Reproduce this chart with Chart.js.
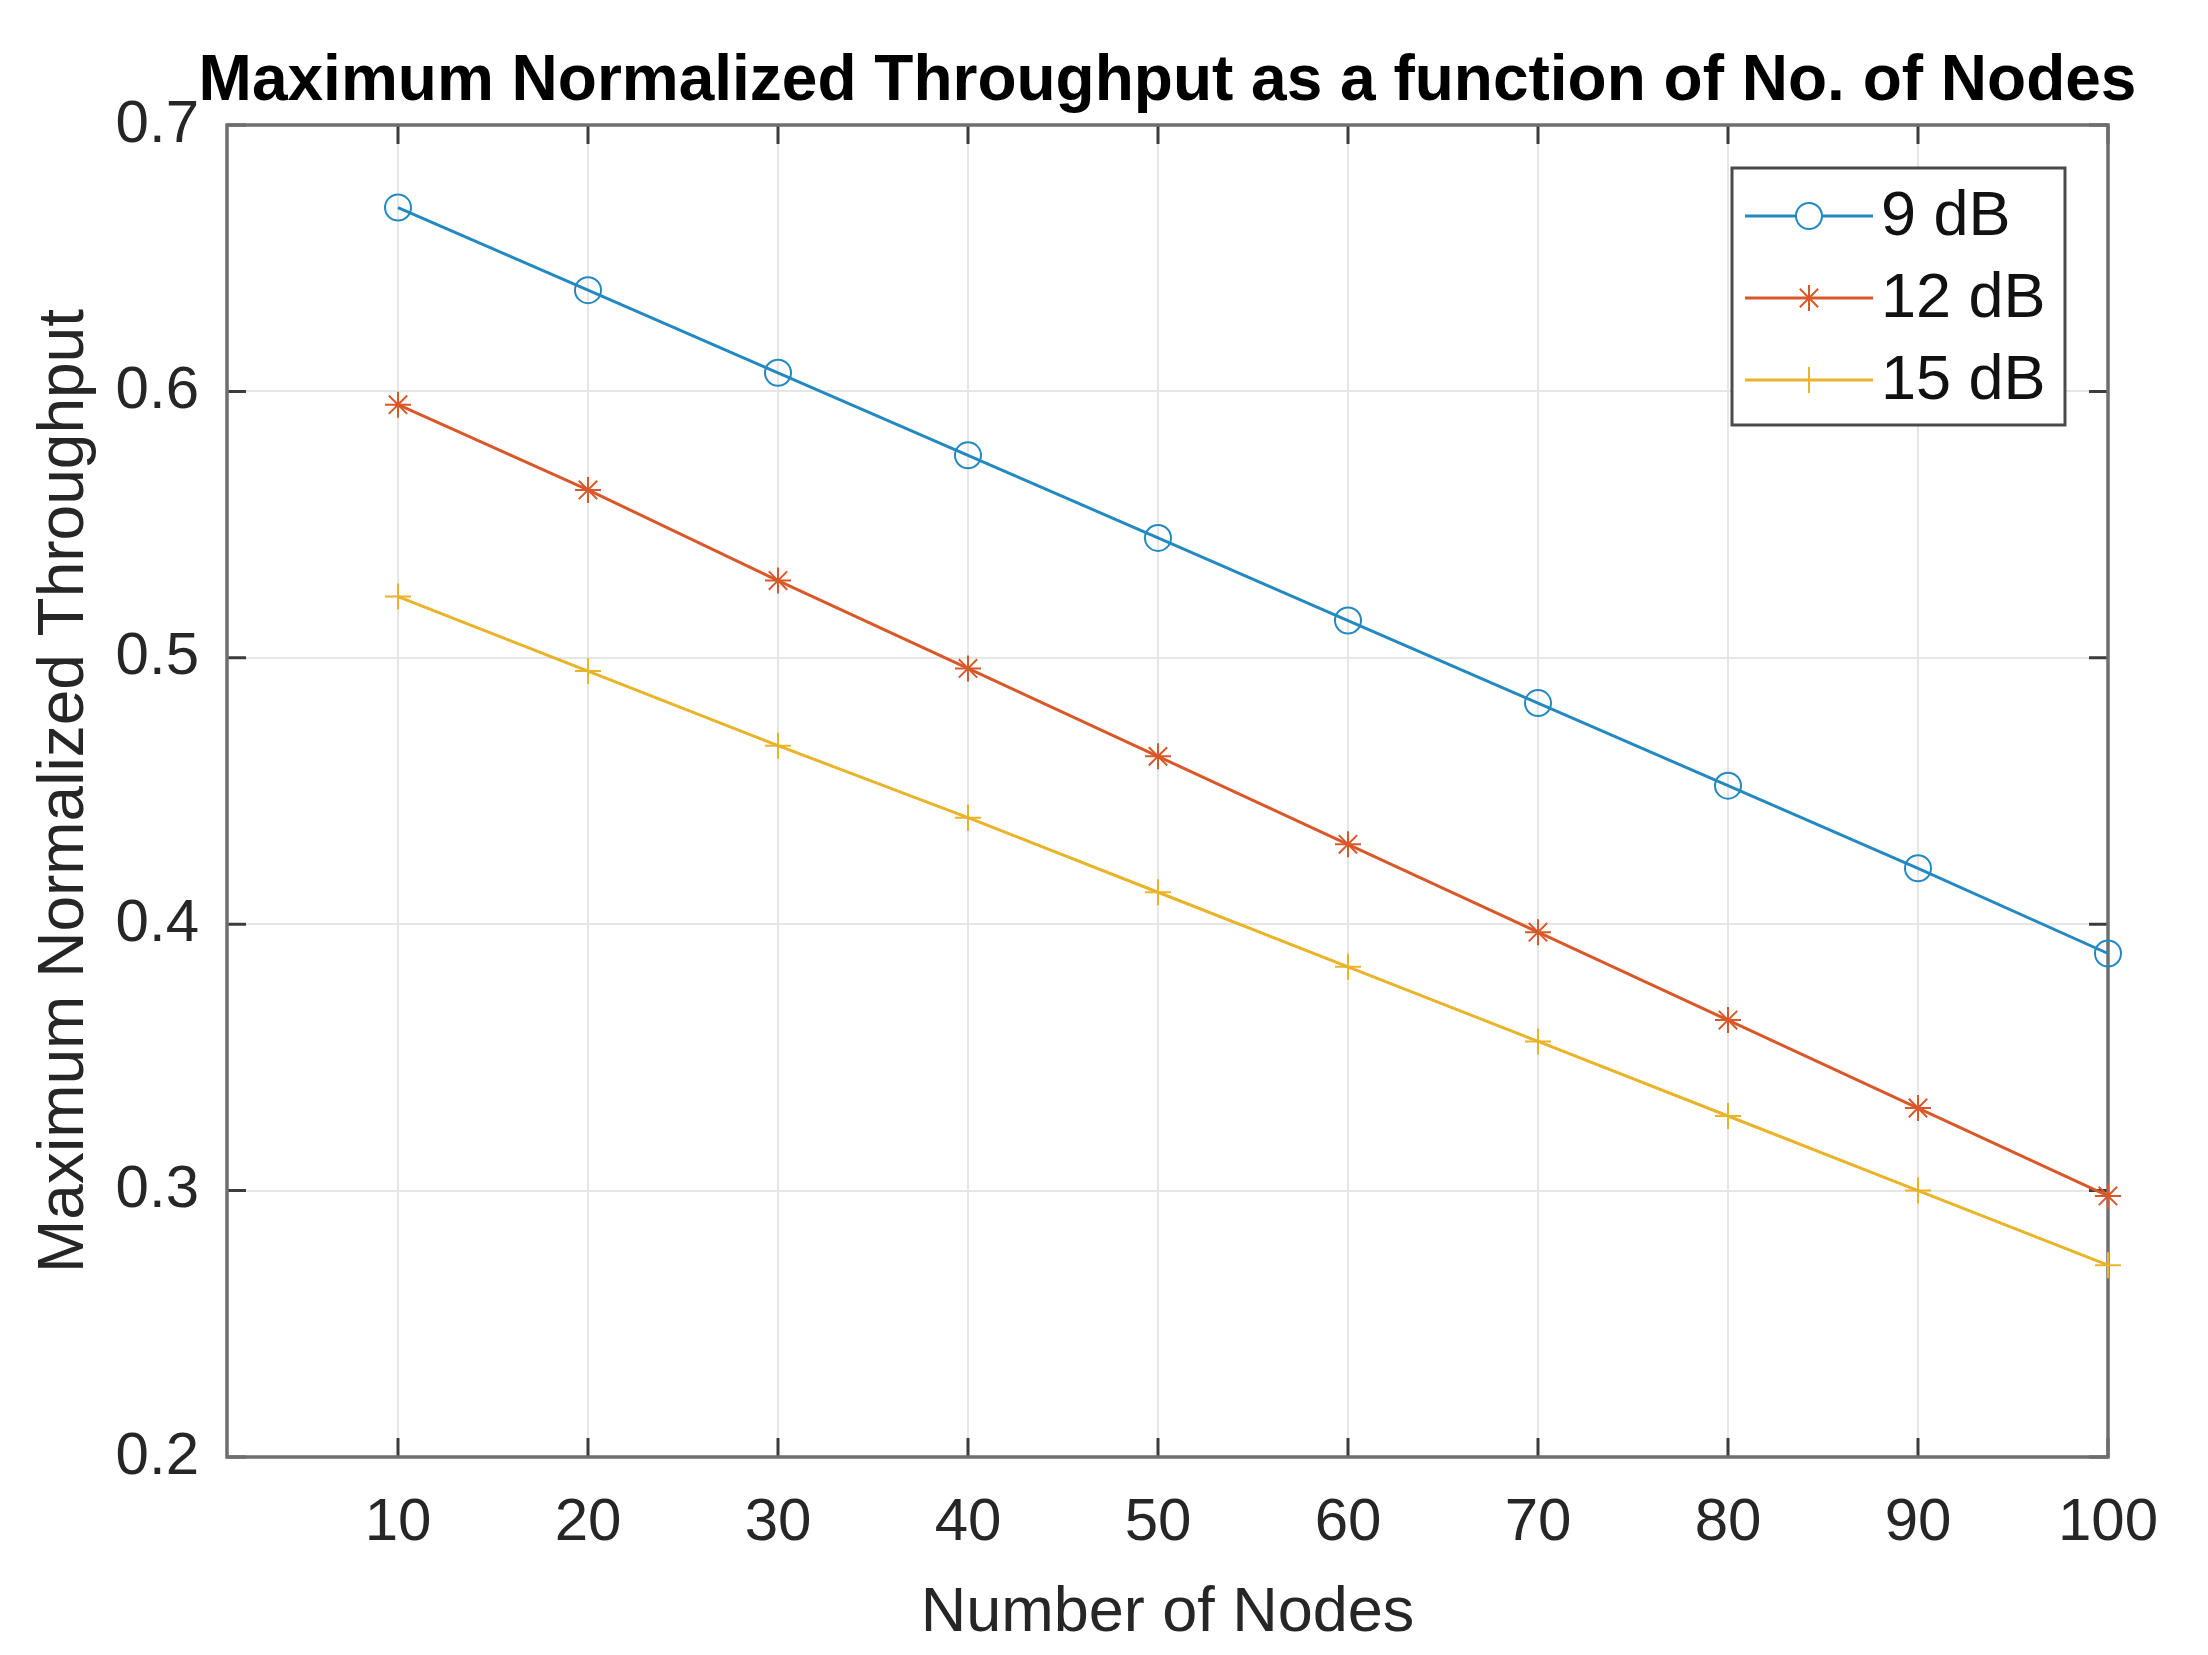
<html><head><title>Maximum Normalized Throughput</title>
<script src="https://cdn.jsdelivr.net/npm/chart.js"></script>
<style>
    html, body {
        margin: 0;
        padding: 0;
        background: #fff;
    }
    #chart-container {
        width: 2208px;
        height: 1655px;
    }
</style>
</head>
<body>
    <div id="chart-container">
        <canvas id="throughputChart" width="2208" height="1655"></canvas>
    </div>

    <script>
    const nodes = [10, 20, 30, 40, 50, 60, 70, 80, 90, 100];
    const seriesLabels = ['9 dB', '12 dB', '15 dB'];
    const throughput9dB = [0.669, 0.638, 0.607, 0.576, 0.545, 0.514, 0.483, 0.452, 0.421, 0.389];
    const throughput12dB = [0.595, 0.563, 0.529, 0.496, 0.463, 0.430, 0.397, 0.364, 0.331, 0.298];
    const throughput15dB = [0.523, 0.495, 0.467, 0.440, 0.412, 0.384, 0.356, 0.328, 0.300, 0.272];
    const xTicks = [10, 20, 30, 40, 50, 60, 70, 80, 90, 100];
    const yTicks = [0.2, 0.3, 0.4, 0.5, 0.6, 0.7];

    const colors = ['#2389c0', '#d9582a', '#e9b32a'];
    const markers = ['circle', 'star', 'cross'];
    const fontFamily = '"Liberation Sans", Arial, sans-serif';

    function toPoints(values) {
        return nodes.map((n, i) => ({ x: n, y: values[i] }));
    }

    // MATLAB style: box, inward ticks on all sides, title and legend inside the axes
    const matlabAxes = {
        id: 'matlabAxes',
        beforeDatasetsDraw(chart) {
            const ctx = chart.ctx;
            const a = chart.chartArea;
            const xs = chart.scales.x;
            const ys = chart.scales.y;
            const tickLen = 19;

            ctx.save();
            ctx.strokeStyle = '#3c3c3c';
            ctx.lineWidth = 3;
            ctx.beginPath();
            xTicks.forEach(t => {
                const px = xs.getPixelForValue(t);
                ctx.moveTo(px, a.bottom); ctx.lineTo(px, a.bottom - tickLen);
                ctx.moveTo(px, a.top); ctx.lineTo(px, a.top + tickLen);
            });
            yTicks.forEach(t => {
                const py = ys.getPixelForValue(t);
                ctx.moveTo(a.left, py); ctx.lineTo(a.left + tickLen, py);
                ctx.moveTo(a.right, py); ctx.lineTo(a.right - tickLen, py);
            });
            ctx.stroke();

            ctx.strokeStyle = '#6e6e6e';
            ctx.lineWidth = 3.5;
            ctx.strokeRect(a.left, a.top, a.right - a.left, a.bottom - a.top);
            ctx.restore();
        },
        afterDatasetsDraw(chart) {
            const ctx = chart.ctx;
            const a = chart.chartArea;

            ctx.save();
            // title
            ctx.fillStyle = '#000';
            ctx.font = 'bold 64px ' + fontFamily;
            ctx.textAlign = 'center';
            ctx.textBaseline = 'middle';
            ctx.fillText('Maximum Normalized Throughput as a function of No. of Nodes', (a.left + a.right) / 2, 82);

            // legend
            const boxW = 333, boxH = 257;
            const bx = a.right - 43 - boxW;
            const by = a.top + 43;
            ctx.fillStyle = '#fff';
            ctx.fillRect(bx, by, boxW, boxH);
            ctx.strokeStyle = '#4a4a4a';
            ctx.lineWidth = 3;
            ctx.strokeRect(bx, by, boxW, boxH);

            chart.data.datasets.forEach((ds, i) => {
                const y = by + 48 + i * 82;
                const x0 = bx + 13, x1 = bx + 141;
                ctx.strokeStyle = ds.borderColor;
                ctx.lineWidth = 3;
                ctx.beginPath();
                ctx.moveTo(x0, y); ctx.lineTo(x1, y);
                ctx.stroke();
                ctx.lineWidth = 2;
                Chart.helpers.drawPoint(ctx, {
                    pointStyle: ds.pointStyle,
                    radius: ds.pointRadius,
                    rotation: 0,
                    borderWidth: 2
                }, (x0 + x1) / 2, y);
                ctx.fillStyle = '#111';
                ctx.font = '63px ' + fontFamily;
                ctx.textAlign = 'left';
                ctx.textBaseline = 'middle';
                ctx.fillText(ds.label, x1 + 8, y + 2);
            });
            ctx.restore();
        }
    };

    const seriesValues = [throughput9dB, throughput12dB, throughput15dB];

    const ctx = document.getElementById('throughputChart').getContext('2d');
    const chart = new Chart(ctx, {
        type: 'line',
        data: {
            datasets: seriesValues.map((vals, i) => ({
                label: seriesLabels[i],
                data: toPoints(vals),
                borderColor: colors[i],
                backgroundColor: 'rgba(0,0,0,0)',
                borderWidth: 3,
                pointStyle: markers[i],
                pointRadius: 13,
                pointBorderWidth: 2,
                pointBorderColor: colors[i],
                pointBackgroundColor: 'rgba(0,0,0,0)',
                fill: false,
                clip: false,
                tension: 0
            }))
        },
        options: {
            responsive: false,
            animation: false,
            devicePixelRatio: 1,
            layout: {
                padding: { top: 125, right: 100, bottom: 0, left: 0 }
            },
            plugins: {
                legend: { display: false },
                title: { display: false },
                tooltip: { enabled: false }
            },
            scales: {
                x: {
                    type: 'linear',
                    min: 1,
                    max: 100,
                    afterBuildTicks: scale => { scale.ticks = xTicks.map(v => ({ value: v })); },
                    afterFit: scale => { scale.height = 198; },
                    grid: { color: '#e6e6e6', lineWidth: 2, drawTicks: false },
                    border: { display: false },
                    ticks: {
                        color: '#262626',
                        padding: 30,
                        maxRotation: 0,
                        font: { family: fontFamily, size: 60 }
                    },
                    title: {
                        display: true,
                        text: 'Number of Nodes',
                        color: '#262626',
                        font: { family: fontFamily, size: 63 },
                        padding: { top: 0, bottom: 4 }
                    }
                },
                y: {
                    min: 0.2,
                    max: 0.7,
                    afterBuildTicks: scale => { scale.ticks = yTicks.map(v => ({ value: v })); },
                    afterFit: scale => { scale.width = 227; },
                    grid: { color: '#e6e6e6', lineWidth: 2, drawTicks: false },
                    border: { display: false },
                    ticks: {
                        color: '#262626',
                        padding: 28,
                        font: { family: fontFamily, size: 60 },
                        callback: v => v.toFixed(1)
                    },
                    title: {
                        display: true,
                        text: 'Maximum Normalized Throughput',
                        color: '#262626',
                        font: { family: fontFamily, size: 64 },
                        padding: { top: 27, bottom: 0 }
                    }
                }
            }
        },
        plugins: [matlabAxes]
    });
    </script>
</body>
</html>
